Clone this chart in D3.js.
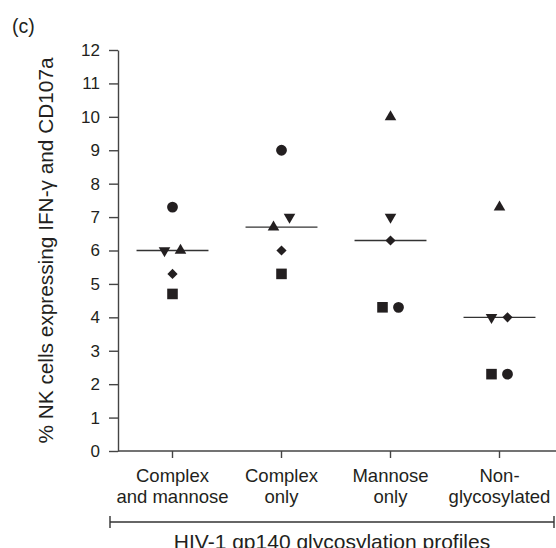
<!DOCTYPE html>
<html>
<head>
<meta charset="utf-8">
<script src="https://cdn.jsdelivr.net/npm/d3@7"></script>
<style>
  html, body { margin: 0; padding: 0; background: #fff; }
  svg { display: block; font-family: "Liberation Sans", Arial, sans-serif; }
</style>
</head>
<body>
<svg id="chart" width="556" height="548"></svg>
<script>
// data
const categories = ['Complex and mannose', 'Complex only', 'Mannose only', 'Non-glycosylated'];
const categoryLines = [['Complex', 'and mannose'], ['Complex', 'only'], ['Mannose', 'only'], ['Non-', 'glycosylated']];
const circleVals = [7.3, 9.0, 4.3, 2.3];
const triUpVals = [6.0, 6.7, 10.0, 7.3];
const triDownVals = [6.0, 7.0, 7.0, 4.0];
const diamondVals = [5.3, 6.0, 6.3, 4.0];
const squareVals = [4.7, 5.3, 4.3, 2.3];
const yTicks = d3.range(0, 13);

const ink = '#231f20';
const svg = d3.select('#chart');

const x = d3.scaleBand().domain(categories).range([118, 554]);
const y = d3.scaleLinear().domain([0, 12]).range([451, 50]);

// series, in the order used to break ties when markers are dodged
const series = [
  { name: 'square', vals: squareVals, type: d3.symbolSquare, size: 112, rot: 0 },
  { name: 'down', vals: triDownVals, type: d3.symbolTriangle, size: 58, rot: 180 },
  { name: 'diamond', vals: diamondVals, type: d3.symbolSquare, size: 52, rot: 45 },
  { name: 'up', vals: triUpVals, type: d3.symbolTriangle, size: 58, rot: 0 },
  { name: 'circle', vals: circleVals, type: d3.symbolCircle, size: 92, rot: 0 }
];

// flatten to points
const points = [];
categories.forEach((c, i) => {
  series.forEach((s, k) => {
    points.push({ cat: c, v: s.vals[i], s, order: k, dx: 0 });
  });
});

// dodge markers that would overlap inside a group
categories.forEach(c => {
  const pts = points.filter(p => p.cat === c)
    .sort((a, b) => a.v - b.v || a.order - b.order);
  const used = new Set();
  pts.forEach(p => {
    if (used.has(p)) return;
    const cluster = pts.filter(q => !used.has(q) && Math.abs(q.v - p.v) < 0.45);
    cluster.forEach((q, j) => {
      q.dx = (j - (cluster.length - 1) / 2) * 16;
      used.add(q);
    });
  });
});

// y axis
const yAxis = svg.append('g')
  .attr('transform', 'translate(118,0)')
  .call(d3.axisLeft(y).tickValues(yTicks).tickSize(9).tickSizeOuter(0).tickPadding(9));
yAxis.select('.domain').attr('stroke', '#444').attr('stroke-width', 1.4);
yAxis.selectAll('.tick line').attr('stroke', '#444').attr('stroke-width', 1.4);
yAxis.selectAll('.tick text')
  .attr('fill', ink)
  .style('font-size', '17px')
  .style('font-family', '"Liberation Sans", Arial, sans-serif');

// x axis
const xAxis = svg.append('g')
  .attr('transform', 'translate(0,451)')
  .call(d3.axisBottom(x).tickSize(7).tickSizeOuter(0).tickFormat(''));
xAxis.select('.domain').attr('stroke', '#444').attr('stroke-width', 1.4)
  .attr('d', 'M118,0H556');
xAxis.selectAll('.tick line').attr('stroke', '#444').attr('stroke-width', 1.4);

const labels = svg.append('g')
  .selectAll('text')
  .data(categories)
  .join('text')
  .attr('text-anchor', 'middle')
  .attr('fill', ink)
  .style('font-size', '18.5px');
labels.selectAll('tspan')
  .data((d, i) => categoryLines[i])
  .join('tspan')
  .attr('x', function () { return x(d3.select(this.parentNode).datum()) + x.bandwidth() / 2; })
  .attr('y', (d, j) => 482 + j * 21)
  .text(d => d);

// bracket under the categories
const br = svg.append('g').attr('stroke', '#333').attr('stroke-width', 1.4);
br.append('line').attr('x1', 110).attr('x2', 554).attr('y1', 522).attr('y2', 522);
br.append('line').attr('x1', 110).attr('x2', 110).attr('y1', 516).attr('y2', 528);
br.append('line').attr('x1', 554).attr('x2', 554).attr('y1', 516).attr('y2', 528);

svg.append('text')
  .attr('x', 332).attr('y', 549)
  .attr('text-anchor', 'middle')
  .attr('fill', ink)
  .style('font-size', '21px')
  .text('HIV-1 gp140 glycosylation profiles');

// y title
svg.append('text')
  .attr('transform', `translate(53,${(y(0) + y(12)) / 2}) rotate(-90)`)
  .attr('text-anchor', 'middle')
  .attr('fill', ink)
  .style('font-size', '20.8px')
  .text('% NK cells expressing IFN-\u03b3 and CD107a');

svg.append('text')
  .attr('x', 12).attr('y', 33)
  .attr('fill', ink)
  .style('font-size', '19.5px')
  .text('(c)');

// median lines
const half = x.bandwidth() * 0.33;
svg.append('g')
  .selectAll('line')
  .data(categories)
  .join('line')
  .attr('x1', c => x(c) + x.bandwidth() / 2 - half)
  .attr('x2', c => x(c) + x.bandwidth() / 2 + half)
  .attr('y1', c => y(d3.median(points.filter(p => p.cat === c), p => p.v)))
  .attr('y2', c => y(d3.median(points.filter(p => p.cat === c), p => p.v)))
  .attr('stroke', '#333')
  .attr('stroke-width', 1.4);

// markers
svg.append('g')
  .selectAll('path')
  .data(points)
  .join('path')
  .attr('d', p => d3.symbol().type(p.s.type).size(p.s.size)())
  .attr('transform', p => `translate(${x(p.cat) + x.bandwidth() / 2 + p.dx},${y(p.v)}) rotate(${p.s.rot})`)
  .attr('fill', ink);
</script>
</body>
</html>
